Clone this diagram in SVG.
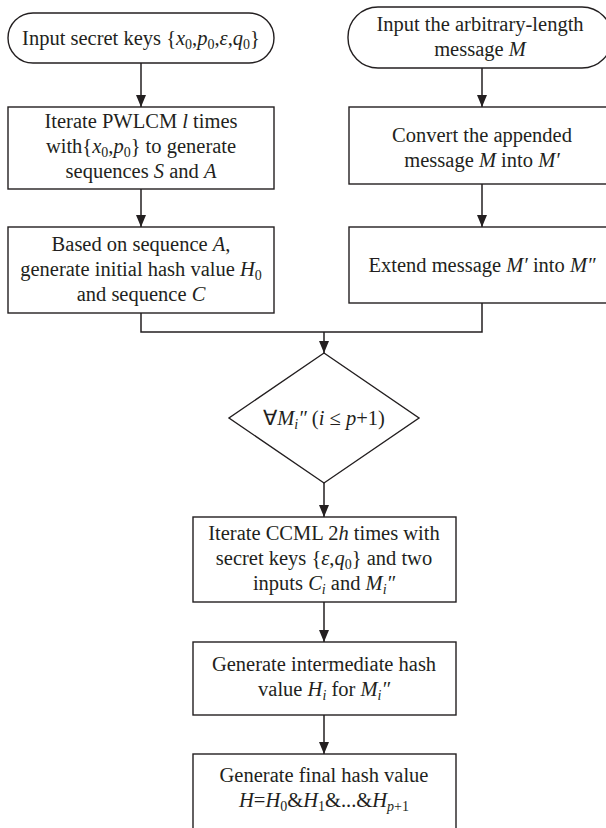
<svg xmlns="http://www.w3.org/2000/svg" width="606" height="828" viewBox="0 0 606 828">
<style>
.shape{fill:#ffffff;stroke:#231f20;stroke-width:1.4}
.conn{fill:none;stroke:#231f20;stroke-width:1.5}
text{font-family:"Liberation Serif","Times New Roman",serif;font-size:20.5px;fill:#231f20;text-anchor:middle}
.i{font-style:italic}
.s{font-size:14px}
</style>
<defs>
<marker id="arr" markerUnits="userSpaceOnUse" viewBox="0 0 12 10" refX="12" refY="5" markerWidth="12" markerHeight="10" orient="auto">
<path d="M0,0 L12,5 L0,10 z" fill="#231f20"/>
</marker>
</defs>
<rect width="606" height="828" fill="#ffffff"/>
<g id="connectors">
<line class="conn" x1="141" y1="63" x2="141" y2="107" marker-end="url(#arr)"/>
<line class="conn" x1="482" y1="68" x2="482" y2="107" marker-end="url(#arr)"/>
<line class="conn" x1="141" y1="189" x2="141" y2="227" marker-end="url(#arr)"/>
<line class="conn" x1="482" y1="184" x2="482" y2="227" marker-end="url(#arr)"/>
<path class="conn" d="M141,313 V332 H482 V303"/>
<line class="conn" x1="324" y1="332" x2="324" y2="353" marker-end="url(#arr)"/>
<line class="conn" x1="324" y1="483" x2="324" y2="517" marker-end="url(#arr)"/>
<line class="conn" x1="324" y1="602" x2="324" y2="642" marker-end="url(#arr)"/>
<line class="conn" x1="324" y1="715" x2="324" y2="754" marker-end="url(#arr)"/>
</g>
<g id="start-keys">
<rect class="shape" x="8" y="13" width="266" height="50" rx="25" ry="25"/>
<text x="141" y="45">Input secret keys {<tspan class="i">x</tspan><tspan class="s" dy="4">0</tspan><tspan dy="-4">,</tspan><tspan class="i">p</tspan><tspan class="s" dy="4">0</tspan><tspan dy="-4">,</tspan><tspan class="i">ε</tspan>,<tspan class="i">q</tspan><tspan class="s" dy="4">0</tspan><tspan dy="-4">}</tspan></text>
</g>
<g id="start-message">
<rect class="shape" x="348" y="7" width="264" height="61" rx="30" ry="30"/>
<text x="480" y="31">Input the arbitrary-length</text>
<text x="480" y="56">message <tspan class="i">M</tspan></text>
</g>
<g id="iterate-pwlcm">
<rect class="shape" x="8" y="107" width="266" height="82"/>
<text x="141" y="128">Iterate PWLCM <tspan class="i">l</tspan> times</text>
<text x="141" y="153">with{<tspan class="i">x</tspan><tspan class="s" dy="4">0</tspan><tspan dy="-4">,</tspan><tspan class="i">p</tspan><tspan class="s" dy="4">0</tspan><tspan dy="-4">} to generate</tspan></text>
<text x="141" y="178">sequences <tspan class="i">S</tspan> and <tspan class="i">A</tspan></text>
</g>
<g id="initial-hash">
<rect class="shape" x="8" y="227" width="266" height="86"/>
<text x="141" y="251">Based on sequence <tspan class="i">A</tspan>,</text>
<text x="141" y="276">generate initial hash value <tspan class="i">H</tspan><tspan class="s" dy="4">0</tspan></text>
<text x="141" y="301">and sequence <tspan class="i">C</tspan></text>
</g>
<g id="convert">
<rect class="shape" x="349" y="107" width="266" height="77"/>
<text x="482" y="142">Convert the appended</text>
<text x="482" y="167">message <tspan class="i">M</tspan> into <tspan class="i">M′</tspan></text>
</g>
<g id="extend">
<rect class="shape" x="349" y="227" width="266" height="76"/>
<text x="482" y="272">Extend message <tspan class="i">M′</tspan> into <tspan class="i">M″</tspan></text>
</g>
<g id="loop">
<polygon class="shape" points="324,353 419,418 324,483 229,418"/>
<text x="324" y="425">∀<tspan class="i">M</tspan><tspan class="s i" dy="4">i</tspan><tspan class="i" dy="-4">″</tspan> (<tspan class="i">i</tspan> ≤ <tspan class="i">p</tspan>+1)</text>
</g>
<g id="iterate-ccml">
<rect class="shape" x="193" y="517" width="263" height="85"/>
<text x="324" y="540">Iterate CCML 2<tspan class="i">h</tspan> times with</text>
<text x="324" y="565">secret keys {<tspan class="i">ε</tspan>,<tspan class="i">q</tspan><tspan class="s" dy="4">0</tspan><tspan dy="-4">} and two</tspan></text>
<text x="324" y="590">inputs <tspan class="i">C</tspan><tspan class="s i" dy="4">i</tspan><tspan dy="-4"> and </tspan><tspan class="i">M</tspan><tspan class="s i" dy="4">i</tspan><tspan class="i" dy="-4">″</tspan></text>
</g>
<g id="intermediate-hash">
<rect class="shape" x="193" y="642" width="263" height="73"/>
<text x="324" y="671">Generate intermediate hash</text>
<text x="324" y="696">value <tspan class="i">H</tspan><tspan class="s i" dy="4">i</tspan><tspan dy="-4"> for </tspan><tspan class="i">M</tspan><tspan class="s i" dy="4">i</tspan><tspan class="i" dy="-4">″</tspan></text>
</g>
<g id="final-hash">
<rect class="shape" x="193" y="754" width="263" height="80"/>
<text x="324" y="782">Generate final hash value</text>
<text x="324" y="807"><tspan class="i">H</tspan>=<tspan class="i">H</tspan><tspan class="s" dy="4">0</tspan><tspan dy="-4">&amp;</tspan><tspan class="i">H</tspan><tspan class="s" dy="4">1</tspan><tspan dy="-4">&amp;...&amp;</tspan><tspan class="i">H</tspan><tspan class="s" dy="4"><tspan class="i">p</tspan>+1</tspan></text>
</g>
</svg>
